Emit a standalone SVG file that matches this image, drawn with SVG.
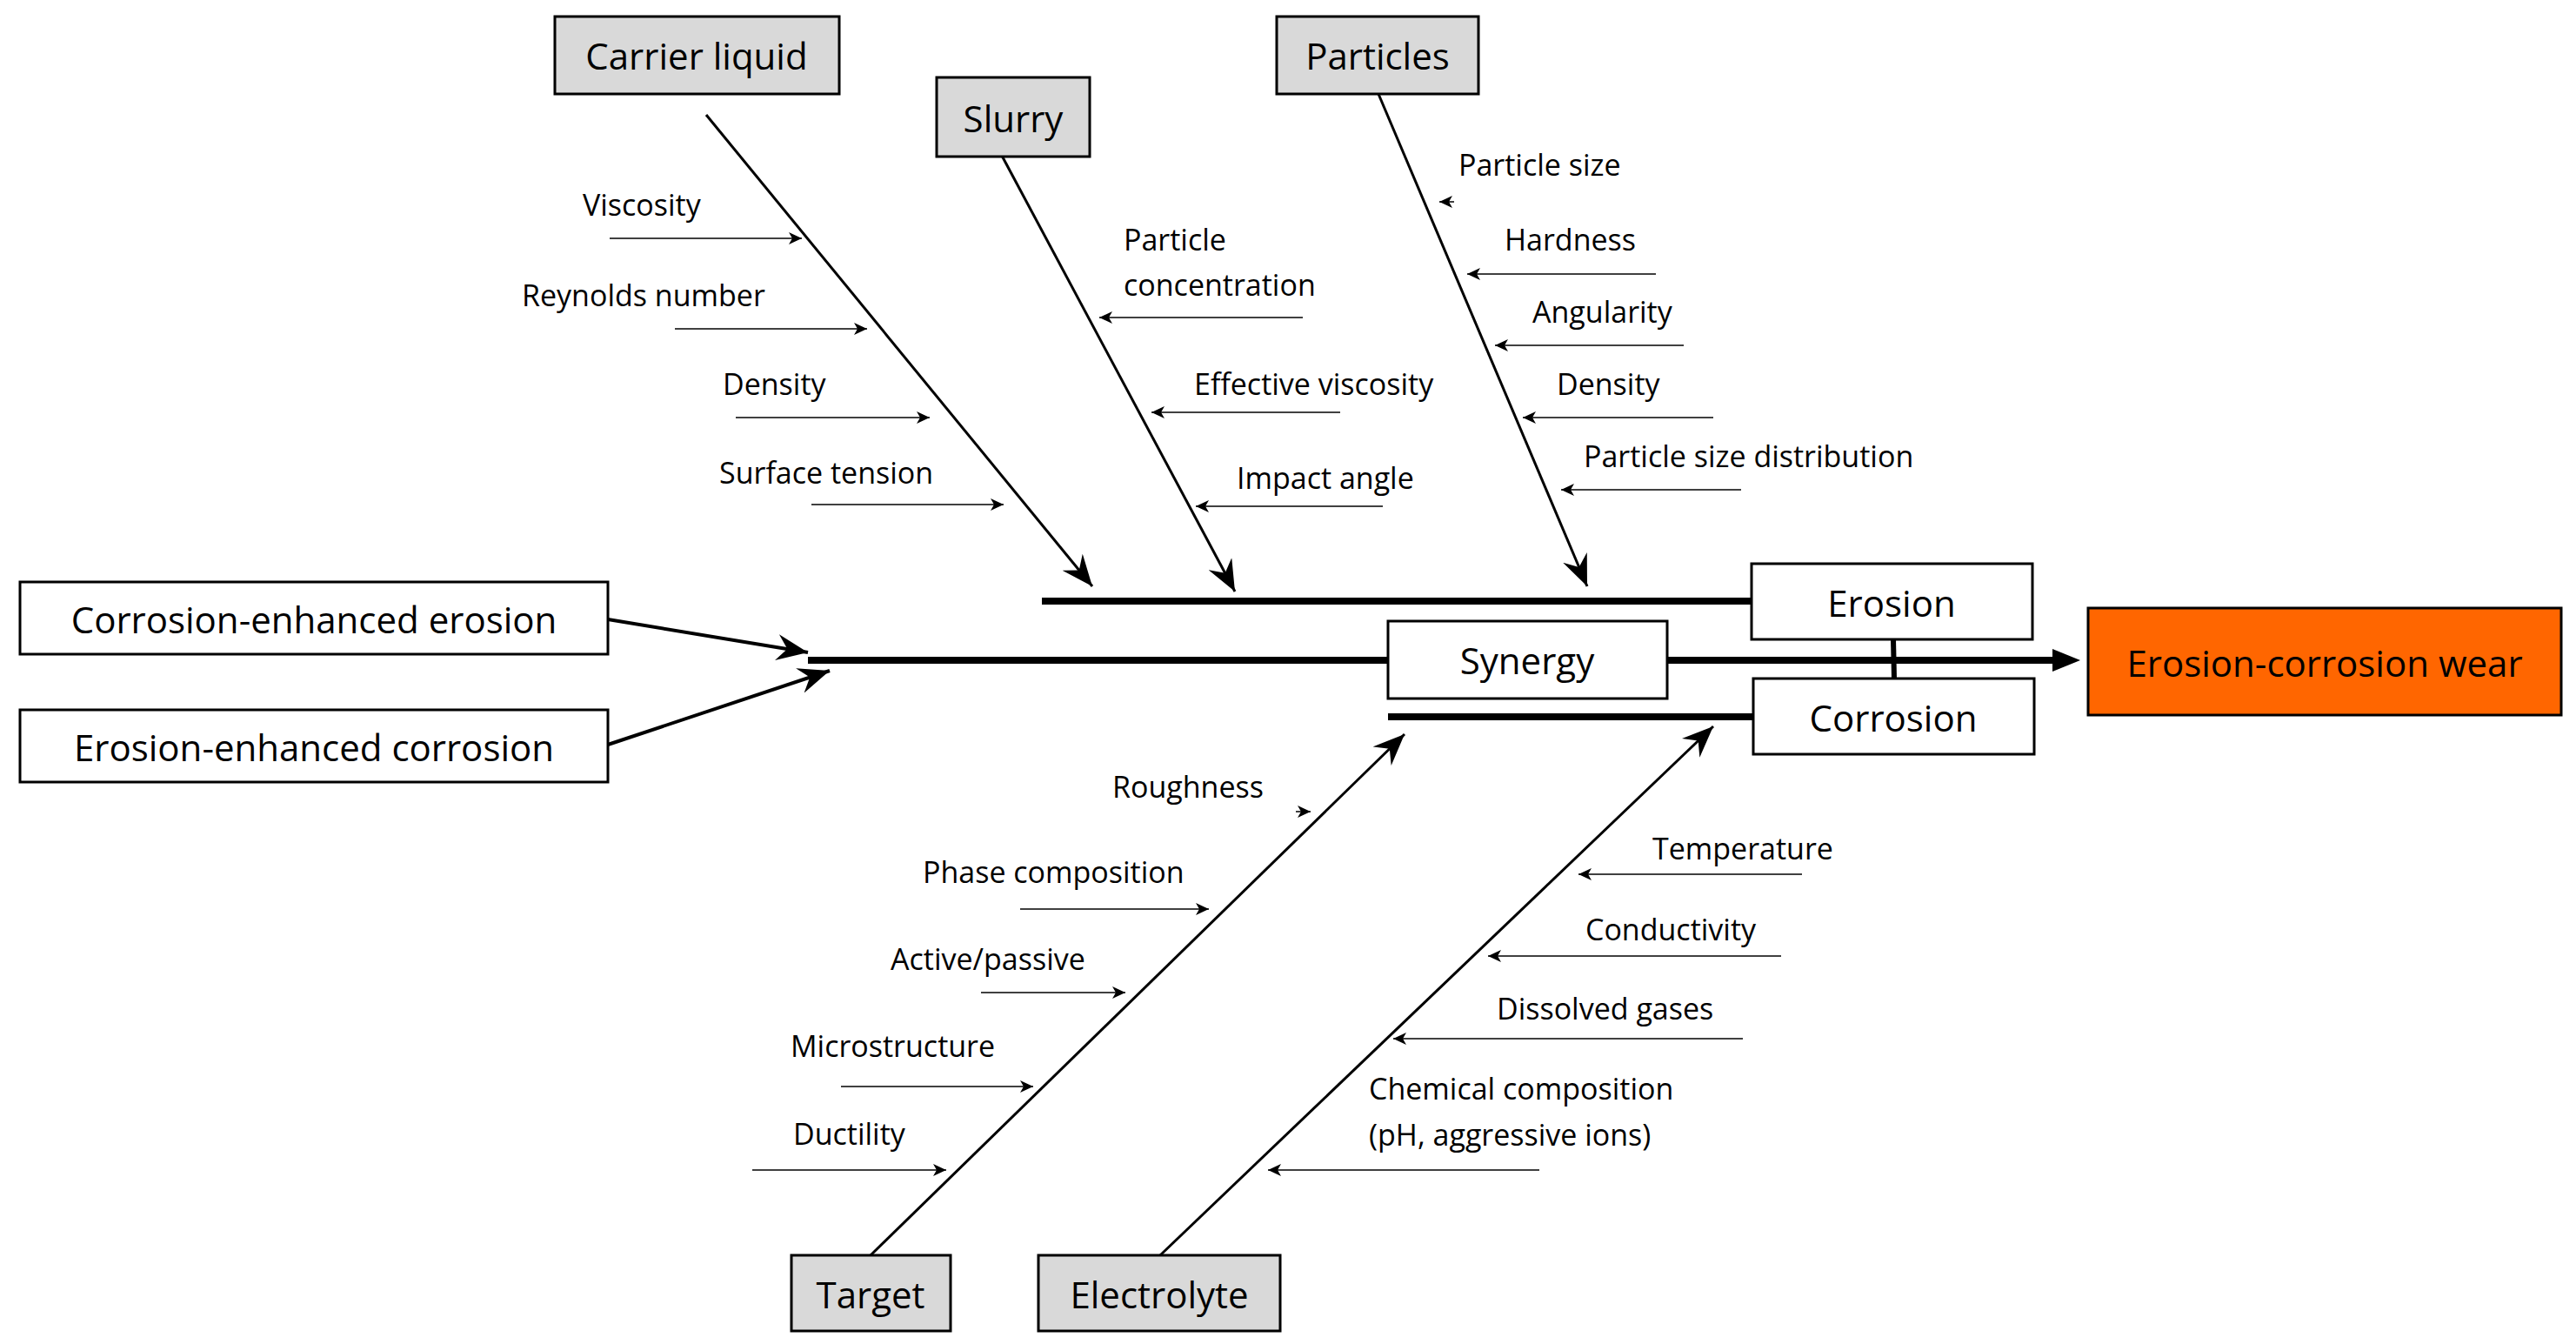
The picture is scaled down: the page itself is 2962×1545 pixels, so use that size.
<svg xmlns="http://www.w3.org/2000/svg" width="2962" height="1545" viewBox="0 0 2962 1545">
<style>
.box{stroke:#000;stroke-width:3}
.g{fill:#d9d9d9}
.w{fill:#fff}
.bt{font-family:"Open Sans","Liberation Sans",sans-serif;font-size:42px;text-anchor:middle;dominant-baseline:central;fill:#000}
.st{font-family:"Open Sans","Liberation Sans",sans-serif;font-size:34px;fill:#000}
.br{stroke:#000;stroke-width:3;fill:none;marker-end:url(#big)}
.sm{stroke:#000;stroke-width:1.5;fill:none;marker-end:url(#small)}
.bar{stroke:#000;stroke-width:8;fill:none}
</style>
<defs>
<marker id="big" markerWidth="12" markerHeight="12" refX="11" refY="5" orient="auto" markerUnits="userSpaceOnUse" viewBox="0 0 12 10">
<path d="M0,0 L11,5 L0,10 L3,5 Z" fill="#000"/>
</marker>
<marker id="big2" markerWidth="30" markerHeight="24" refX="28" refY="12" orient="auto" markerUnits="userSpaceOnUse" viewBox="0 0 30 24">
<path d="M0,0 L28,12 L0,24 L5,12 Z" fill="#000"/>
</marker>
<marker id="small" markerWidth="16" markerHeight="14" refX="15" refY="7" orient="auto" markerUnits="userSpaceOnUse" viewBox="0 0 16 14">
<path d="M0,0 L15,7 L0,14 L4,7 Z" fill="#000"/>
</marker>
<marker id="head" markerWidth="36" markerHeight="30" refX="36" refY="15" orient="auto" markerUnits="userSpaceOnUse" viewBox="0 0 36 30">
<path d="M0,0 L36,15 L0,30 L12,15 Z" fill="#000"/>
</marker>
</defs>

<g id="connectors">
<line class="bar" x1="1198" y1="691" x2="2014" y2="691"/>
<line class="bar" x1="929" y1="759" x2="1596" y2="759"/>
<line class="bar" x1="1917" y1="759" x2="2360" y2="759"/>
<path d="M2360,746 L2392,759 L2360,772 Z" fill="#000"/>
<line class="bar" x1="1596" y1="824" x2="2016" y2="824"/>
<line x1="2177" y1="735" x2="2178" y2="780" stroke="#000" stroke-width="6"/>
<line x1="699" y1="712" x2="929" y2="750" stroke="#000" stroke-width="4" marker-end="url(#head)"/>
<line x1="699" y1="856" x2="954" y2="771" stroke="#000" stroke-width="4" marker-end="url(#head)"/>
<line x1="812" y1="132" x2="1256" y2="674" stroke="#000" stroke-width="3" marker-end="url(#head)"/>
<line x1="1152" y1="179" x2="1420" y2="680" stroke="#000" stroke-width="3" marker-end="url(#head)"/>
<line x1="1585" y1="108" x2="1825" y2="674" stroke="#000" stroke-width="3" marker-end="url(#head)"/>
<line x1="1001" y1="1443" x2="1615" y2="844" stroke="#000" stroke-width="3" marker-end="url(#head)"/>
<line x1="1334" y1="1443" x2="1970" y2="835" stroke="#000" stroke-width="3" marker-end="url(#head)"/>
<!-- small arrows -->
<line class="sm" x1="701" y1="274" x2="922" y2="274"/>
<line class="sm" x1="776" y1="378" x2="997" y2="378"/>
<line class="sm" x1="846" y1="480" x2="1069" y2="480"/>
<line class="sm" x1="933" y1="580" x2="1154" y2="580"/>
<line class="sm" x1="1498" y1="365" x2="1264" y2="365"/>
<line class="sm" x1="1541" y1="474" x2="1324" y2="474"/>
<line class="sm" x1="1590" y1="582" x2="1375" y2="582"/>
<line class="sm" x1="1672" y1="232" x2="1655" y2="232"/>
<line class="sm" x1="1904" y1="315" x2="1687" y2="315"/>
<line class="sm" x1="1936" y1="397" x2="1719" y2="397"/>
<line class="sm" x1="1970" y1="480" x2="1751" y2="480"/>
<line class="sm" x1="2002" y1="563" x2="1795" y2="563"/>
<line class="sm" x1="1490" y1="933" x2="1507" y2="933"/>
<line class="sm" x1="1173" y1="1045" x2="1390" y2="1045"/>
<line class="sm" x1="1128" y1="1141" x2="1294" y2="1141"/>
<line class="sm" x1="967" y1="1249" x2="1188" y2="1249"/>
<line class="sm" x1="865" y1="1345" x2="1088" y2="1345"/>
<line class="sm" x1="2072" y1="1005" x2="1815" y2="1005"/>
<line class="sm" x1="2048" y1="1099" x2="1711" y2="1099"/>
<line class="sm" x1="2004" y1="1194" x2="1602" y2="1194"/>
<line class="sm" x1="1770" y1="1345" x2="1458" y2="1345"/>
</g>

<g id="carrier"><rect class="box g" x="638" y="19" width="327" height="89"/><text class="bt" x="801" y="63">Carrier liquid</text></g>
<g id="slurry"><rect class="box g" x="1077" y="89" width="176" height="91"/><text class="bt" x="1165" y="135">Slurry</text></g>
<g id="particles"><rect class="box g" x="1468" y="19" width="232" height="89"/><text class="bt" x="1584" y="63">Particles</text></g>
<g id="cee"><rect class="box w" x="23" y="669" width="676" height="83"/><text class="bt" x="361" y="711">Corrosion-enhanced erosion</text></g>
<g id="eec"><rect class="box w" x="23" y="816" width="676" height="83"/><text class="bt" x="361" y="858">Erosion-enhanced corrosion</text></g>
<g id="erosion"><rect class="box w" x="2014" y="648" width="323" height="87"/><text class="bt" x="2175" y="692">Erosion</text></g>
<g id="synergy"><rect class="box w" x="1596" y="714" width="321" height="89"/><text class="bt" x="1756" y="758">Synergy</text></g>
<g id="corrosion"><rect class="box w" x="2016" y="780" width="323" height="87"/><text class="bt" x="2177" y="824">Corrosion</text></g>
<g id="result"><rect x="2401" y="699" width="544" height="123" fill="#ff6600" stroke="#000" stroke-width="3"/><text class="bt" x="2673" y="761">Erosion-corrosion wear</text></g>
<g id="target"><rect class="box g" x="910" y="1443" width="183" height="87"/><text class="bt" x="1001" y="1487">Target</text></g>
<g id="electrolyte"><rect class="box g" x="1194" y="1443" width="278" height="87"/><text class="bt" x="1333" y="1487">Electrolyte</text></g>

<g id="labels">
<text class="st" x="670" y="248">Viscosity</text>
<text class="st" x="600" y="352">Reynolds number</text>
<text class="st" x="831" y="454">Density</text>
<text class="st" x="827" y="556">Surface tension</text>
<text class="st" x="1292" y="288">Particle</text>
<text class="st" x="1292" y="340">concentration</text>
<text class="st" x="1373" y="454">Effective viscosity</text>
<text class="st" x="1422" y="562">Impact angle</text>
<text class="st" x="1677" y="202">Particle size</text>
<text class="st" x="1730" y="288">Hardness</text>
<text class="st" x="1762" y="371">Angularity</text>
<text class="st" x="1790" y="454">Density</text>
<text class="st" x="1821" y="537">Particle size distribution</text>
<text class="st" x="1279" y="917">Roughness</text>
<text class="st" x="1061" y="1015">Phase composition</text>
<text class="st" x="1024" y="1115">Active/passive</text>
<text class="st" x="909" y="1215">Microstructure</text>
<text class="st" x="912" y="1316">Ductility</text>
<text class="st" x="1900" y="988">Temperature</text>
<text class="st" x="1823" y="1081">Conductivity</text>
<text class="st" x="1721" y="1172">Dissolved gases</text>
<text class="st" x="1574" y="1264">Chemical composition</text>
<text class="st" x="1574" y="1317">(pH, aggressive ions)</text>
</g>
</svg>
